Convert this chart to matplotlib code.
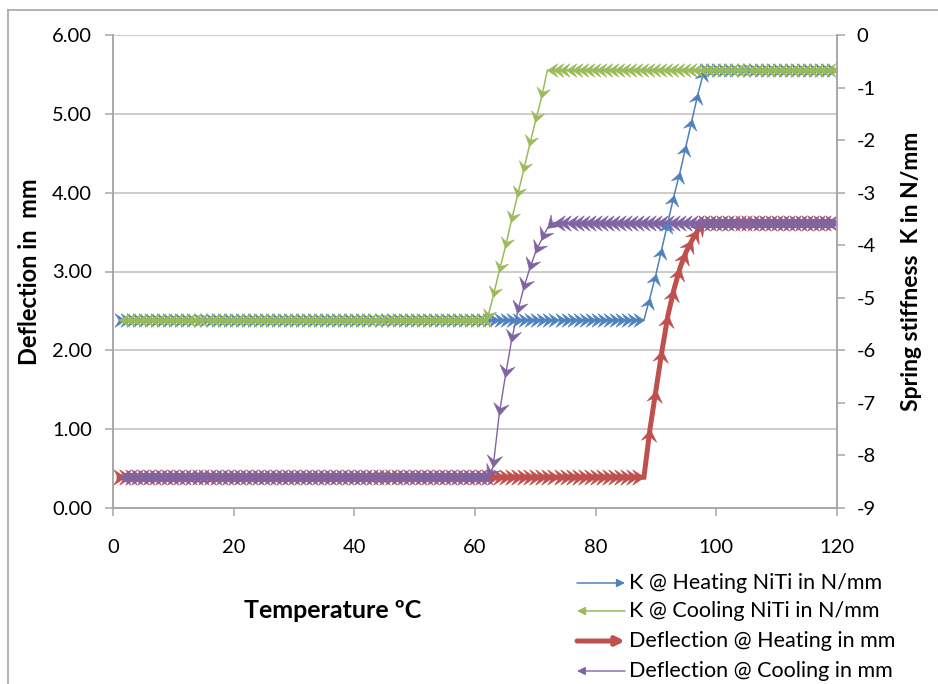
import numpy as np
import matplotlib.pyplot as plt
from matplotlib.markers import MarkerStyle
from matplotlib.path import Path
from matplotlib.transforms import Affine2D
from matplotlib.patches import FancyArrowPatch
from matplotlib.lines import Line2D

plt.rcParams['font.family'] = ['Lato', 'DejaVu Sans']
plt.rcParams['axes.unicode_minus'] = False

# temperature steps in deg C
temps = np.arange(1, 121)

# plateau levels (K on the right axis, deflection on the left axis)
k_low, k_high = -5.42, -0.67
defl_low, defl_high = 0.39, 3.62

# transformation ramps
k_heat_t = np.arange(88, 99)
k_heat_ramp = [-5.42, -5.0, -4.55, -4.05, -3.55, -3.05, -2.6, -2.1, -1.6, -1.1, -0.67]
k_cool_t = np.arange(62, 73)
k_cool_ramp = [-5.42, -4.98, -4.5, -4.05, -3.55, -3.08, -2.6, -2.12, -1.65, -1.2, -0.67]
defl_heat_t = np.arange(88, 99)
defl_heat_ramp = [0.39, 1.0, 1.5, 2.0, 2.45, 2.78, 3.05, 3.25, 3.4, 3.53, 3.62]
defl_cool_t = np.arange(62, 74)
defl_cool_ramp = [0.39, 0.52, 1.18, 1.66, 2.1, 2.47, 2.77, 3.02, 3.24, 3.4, 3.55, 3.62]

labels = ['K @ Heating NiTi in N/mm', 'K @ Cooling NiTi in N/mm',
          'Deflection @ Heating in mm', 'Deflection @ Cooling in mm']
colors = ['#4F81BD', '#9BBB59', '#C0504D', '#8064A2']


def build(ramp_t, ramp_v, low, high):
    y = np.where(temps < ramp_t[0], low, high).astype(float)
    y[ramp_t - 1] = ramp_v
    return y


k_heat = build(k_heat_t, k_heat_ramp, k_low, k_high)
k_cool = build(k_cool_t, k_cool_ramp, k_low, k_high)
defl_heat = build(defl_heat_t, defl_heat_ramp, defl_low, defl_high)
defl_cool = build(defl_cool_t, defl_cool_ramp, defl_low, defl_high)

W, H = 938, 684
fig = plt.figure(figsize=(W / 100, H / 100), dpi=100)
fig.subplots_adjust(left=113 / W, right=837 / W, top=1 - 35 / H, bottom=1 - 508 / H)
ax = fig.add_subplot(111)
ax2 = ax.twinx()

ax.set_xlim(0, 120)
ax.set_ylim(0, 6)
ax2.set_ylim(-9, 0)

grid_c = '#bfbfbf'
spine_c = '#a6a6a6'
ax.set_xticks(np.arange(0, 121, 20))
ax.set_yticks(np.arange(0, 6.01, 1))
ax2.set_yticks(np.arange(-9, 0.1, 1))
ax.yaxis.set_major_formatter('{x:.2f}')
ax2.yaxis.set_major_formatter('{x:.0f}')
ax.grid(axis='y', color=grid_c, lw=1.1)
ax.set_axisbelow(True)
for a in (ax, ax2):
    a.spines['top'].set_visible(False)
    for s in ('left', 'right', 'bottom'):
        a.spines[s].set_color(spine_c)
        a.spines[s].set_linewidth(1.1)
    a.tick_params(colors=spine_c, labelcolor='black', labelsize=14.5, length=6, width=1.1)
ax.tick_params(axis='y', pad=9)
ax.tick_params(axis='x', pad=16)
ax2.tick_params(axis='y', pad=8)

# stealth arrowhead pointing along +x, tip at the data point
head = Path([(0, 0), (-1, 0.65), (-0.6, 0), (-1, -0.65), (0, 0)],
            [Path.MOVETO, Path.LINETO, Path.LINETO, Path.LINETO, Path.CLOSEPOLY])


def arrow_series(a, x, y, color, lw, ms):
    a.plot(x, y, color=color, lw=lw, solid_joinstyle='miter')
    pts = a.transData.transform(np.column_stack([x, y]))
    for i in range(1, len(x)):
        dx, dy = pts[i] - pts[i - 1]
        ang = np.degrees(np.arctan2(dy, dx))
        m = MarkerStyle(head, transform=Affine2D().rotate_deg(ang))
        a.plot(x[i], y[i], marker=m, ms=ms, color=color, mec=color, mew=0.4,
               linestyle='none')


arrow_series(ax2, temps, k_heat, colors[0], 1.1, 15)
arrow_series(ax2, temps[::-1], k_cool[::-1], colors[1], 1.1, 15)
arrow_series(ax, temps, defl_heat, colors[2], 3.6, 17)
arrow_series(ax, temps[::-1], defl_cool[::-1], colors[3], 1.0, 17)

ax.set_ylabel('Deflection in  mm', fontsize=17, fontweight='bold', labelpad=8)
ax2.set_ylabel('Spring stiffness  K in N/mm', fontsize=16.5, fontweight='bold', labelpad=18)
fig.text(333 / W, 1 - 610 / H, 'Temperature ºC', fontsize=18, fontweight='bold',
         ha='center', va='center')

# legend below the plot, right side
rows_y = [583, 611, 641, 671]
widths = [1.1, 1.1, 3.6, 1.0]
for lab, c, ry, lw, heating in zip(labels, colors, rows_y, widths, [True, False, True, False]):
    yf = 1 - ry / H
    a0, a1 = (577 / W, 625 / W) if heating else (625 / W, 577 / W)
    fig.add_artist(FancyArrowPatch((a0, yf), (a1, yf), transform=fig.transFigure,
                                   arrowstyle='-|>', mutation_scale=12, lw=lw,
                                   color=c, shrinkA=0, shrinkB=0))
    fig.text(629 / W, yf, lab, fontsize=15.5, ha='left', va='center')

# chart area frame
fig.add_artist(Line2D([8 / W, 1], [1 - 10 / H, 1 - 10 / H], transform=fig.transFigure,
                      color=spine_c, lw=1.2))
fig.add_artist(Line2D([8 / W, 8 / W], [0, 1 - 10 / H], transform=fig.transFigure,
                      color=spine_c, lw=1.2))

fig.savefig('out.png', dpi=100)
